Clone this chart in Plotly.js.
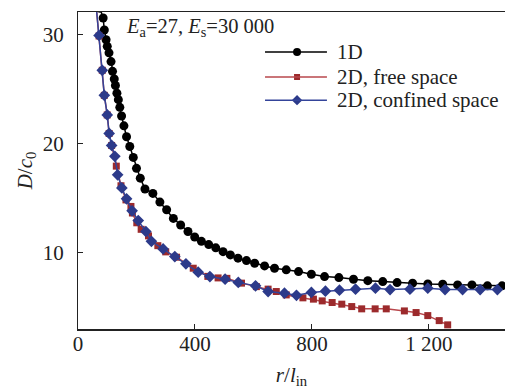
<!DOCTYPE html>
<html>
<head>
<meta charset="utf-8">
<script src="https://cdn.plot.ly/plotly-3.0.1.min.js"></script>
<style>html,body{margin:0;padding:0;background:#fff;}#chart{width:505px;height:389px;}</style>
</head>
<body>
<div id="chart"></div>
<script>
// 1D
const x1D = [75, 86, 90, 96, 100, 106, 113, 118, 124, 128, 133, 138, 143, 149, 157, 166, 177, 189, 200, 213, 229, 256, 280, 303, 326, 351, 376, 399, 422, 447, 471, 496, 521, 547, 576, 604, 638, 672, 712, 754, 798, 843, 892, 942, 991, 1042, 1091, 1144, 1196, 1247, 1298, 1347, 1400, 1450];
const y1D = [32.4, 31.5, 30.4, 29.5, 28.9, 28.3, 27.5, 26.6, 25.9, 25.3, 24.6, 24.0, 23.3, 22.5, 21.6, 20.6, 19.7, 18.7, 17.7, 16.8, 15.8, 15.4, 14.6, 13.9, 13.1, 12.5, 11.9, 11.4, 11.0, 10.7, 10.4, 10.05, 9.75, 9.45, 9.23, 8.99, 8.74, 8.53, 8.38, 8.22, 7.98, 7.76, 7.67, 7.52, 7.39, 7.30, 7.21, 7.16, 7.09, 7.06, 7.00, 7.00, 6.91, 6.91];
// 2D, free space
const xFree = [57, 72, 83, 90, 100, 106.5, 115, 131, 147, 164, 181, 186, 201, 216, 241, 273, 300, 337, 394, 444, 479, 509, 559, 610, 650, 678, 712, 769, 805, 835, 869, 902, 936, 970, 1016, 1054, 1116, 1156, 1196, 1235, 1264];
const yFree = [34.1, 29.85, 26.7, 24.4, 22.6, 20.9, 19.8, 17.9, 16.1, 14.8, 14.2, 13.6, 12.7, 12.1, 11.5, 10.6, 10.03, 9.54, 8.53, 7.78, 7.64, 7.60, 7.16, 6.84, 6.61, 6.39, 6.08, 5.81, 5.69, 5.53, 5.38, 5.23, 5.01, 4.80, 4.80, 4.80, 4.61, 4.46, 4.18, 3.72, 3.33];
// 2D, confined space
const xConf = [57, 72, 83, 90, 100, 106.5, 115, 126, 135.5, 150, 166, 185, 206, 232, 251, 291, 331, 369, 411, 451, 503, 548, 607, 650, 706, 747, 798, 846, 894, 949, 1017, 1067, 1135, 1196, 1255, 1315, 1375, 1434];
const yConf = [34.1, 29.9, 26.7, 24.4, 22.6, 20.9, 19.8, 18.8, 17.1, 15.9, 14.9, 13.8, 12.9, 11.9, 11.0, 10.3, 9.6, 8.93, 8.17, 7.76, 7.52, 7.23, 6.91, 6.39, 6.24, 6.04, 6.31, 6.42, 6.51, 6.61, 6.70, 6.57, 6.61, 6.70, 6.57, 6.57, 6.57, 6.57];
const seriesNames = ["1D", "2D, free space", "2D, confined space"];
const xTickVals = [0, 400, 800, 1200];
const xTickText = ["0", "400", "800", "1 200"];
const yTickVals = [10, 20, 30];
const yTickText = ["10", "20", "30"];

const FONT = "'Liberation Serif', 'Times New Roman', serif";
const INK = "#222222";
const XRANGE = [0, 1460];
const YRANGE = [2.95, 32.05];

const styles = [
  {line: {color: "#000000", width: 1.5}, marker: {symbol: "circle", size: 9, color: "#000000"}},
  {line: {color: "#b8474c", width: 1.5}, marker: {symbol: "square", size: 7, color: "#9c2a2c"}},
  {line: {color: "#34449a", width: 1.5}, marker: {symbol: "diamond", size: 9, color: "#2c3a8a"}}
];
const xs = [x1D, xFree, xConf];
const ys = [y1D, yFree, yConf];

const traces = xs.map((x, i) => ({
  x: x, y: ys[i], name: seriesNames[i], type: "scatter", mode: "lines+markers",
  line: styles[i].line, marker: styles[i].marker, showlegend: false, cliponaxis: true
}));

// Hand-drawn legend (lines as shapes, markers on an overlay axis, text as annotations)
const legRowY = [0.874, 0.795, 0.722];
const legLineX0 = 0.438, legLineX1 = 0.583, legMarkX = 0.513, legTextX = 0.602;
const shapes = [];
const annotations = [];
legRowY.forEach((yy, i) => {
  shapes.push({type: "line", xref: "paper", yref: "paper", x0: legLineX0, x1: legLineX1, y0: yy, y1: yy,
               line: {color: styles[i].line.color, width: 1.5}});
  traces.push({x: [legMarkX], y: [yy], xaxis: "x2", yaxis: "y2", type: "scatter", mode: "markers",
               marker: Object.assign({}, styles[i].marker, {size: styles[i].marker.size - 1}),
               showlegend: false, hoverinfo: "skip"});
  annotations.push({xref: "paper", yref: "paper", x: legTextX, y: yy, xanchor: "left", yanchor: "middle",
                    text: seriesNames[i], showarrow: false, font: {family: FONT, size: 21, color: INK}});
});
annotations.push({
  xref: "paper", yref: "paper", x: 0.108, y: 0.95, xanchor: "left", yanchor: "middle",
  text: "<i>E</i><sub>a</sub>=27, <i>E</i><sub>s</sub>=30 000", showarrow: false,
  font: {family: FONT, size: 20.5, color: INK}
});
// invisible trace so the frame axes (x3/y3) are drawn
traces.push({x: [], y: [], xaxis: "x3", yaxis: "y3", type: "scatter", mode: "markers", showlegend: false});

const layout = {
  width: 505, height: 389,
  margin: {l: 78, r: 0, t: 12, b: 60},
  paper_bgcolor: "#ffffff", plot_bgcolor: "#ffffff",
  font: {family: FONT, size: 20, color: INK},
  showlegend: false,
  // label-carrying axes
  xaxis: {range: XRANGE, tickmode: "array", tickvals: xTickVals, ticktext: xTickText,
          anchor: "free", position: 0,
          ticks: "", showline: false, showgrid: false, zeroline: false,
          tickfont: {family: FONT, size: 21, color: INK},
          title: {text: "<i>r</i>/<i>l</i><sub>in</sub>", font: {family: FONT, size: 21, color: INK}, standoff: 18}},
  yaxis: {range: YRANGE, tickmode: "array", tickvals: yTickVals, ticktext: yTickText,
          ticks: "outside", ticklen: 9, tickcolor: "rgba(0,0,0,0)",
          showline: false, showgrid: false, zeroline: false,
          tickfont: {family: FONT, size: 21, color: INK},
          title: {text: "<i>D</i>/<i>c</i><sub>0</sub>", font: {family: FONT, size: 21, color: INK}, standoff: 4}},
  // legend overlay axes
  xaxis2: {overlaying: "x", range: [0, 1], visible: false, fixedrange: true},
  yaxis2: {overlaying: "y", range: [0, 1], visible: false, fixedrange: true},
  // frame axes with inward ticks
  xaxis3: {overlaying: "x", anchor: "y3", range: XRANGE, tickmode: "array", tickvals: xTickVals,
           showticklabels: false, ticks: "inside", ticklen: 5, tickwidth: 1, tickcolor: INK,
           showline: true, linecolor: INK, linewidth: 1.5, mirror: true, showgrid: false, zeroline: false},
  yaxis3: {overlaying: "y", anchor: "x3", range: YRANGE, tickmode: "array", tickvals: yTickVals,
           showticklabels: false, ticks: "inside", ticklen: 5, tickwidth: 1, tickcolor: INK,
           showline: true, linecolor: INK, linewidth: 1.5, mirror: true, showgrid: false, zeroline: false},
  shapes: shapes,
  annotations: annotations
};

Plotly.newPlot("chart", traces, layout, {displayModeBar: false, staticPlot: true});
</script>
</body>
</html>
